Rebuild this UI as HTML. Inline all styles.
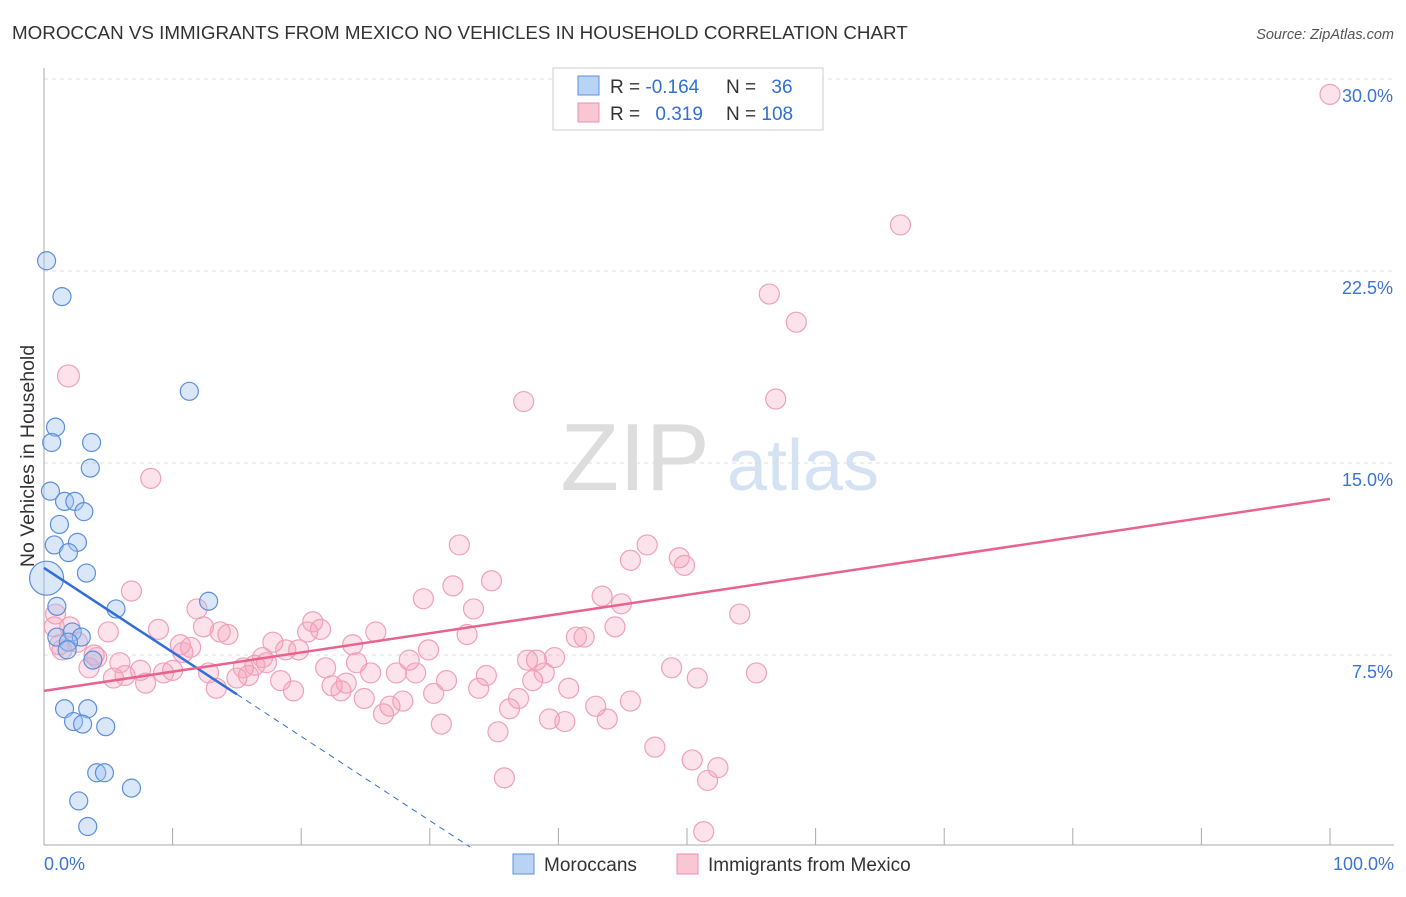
<!DOCTYPE html>
<html><head><meta charset="utf-8"><style>
body{margin:0;background:#fff;font-family:"Liberation Sans",sans-serif}
svg text{font-family:"Liberation Sans",sans-serif}
</style></head><body>
<svg id="c" width="1406" height="892" viewBox="0 0 1406 892">
<text x="12" y="39" font-size="18.8" fill="#333">MOROCCAN VS IMMIGRANTS FROM MEXICO NO VEHICLES IN HOUSEHOLD CORRELATION CHART</text>
<text x="1394" y="39" font-size="14.5" fill="#555" font-style="italic" text-anchor="end">Source: ZipAtlas.com</text>
<text x="0" y="0" transform="translate(34,456) rotate(-90)" font-size="19.5" fill="#333" text-anchor="middle">No Vehicles in Household</text>
<g><text x="635" y="490" font-size="96" fill="#ddd" font-family="Liberation Serif" text-anchor="middle">ZIP</text><text x="803" y="490" font-size="72" fill="#d4e2f4" text-anchor="middle">atlas</text></g>
<g id="grid"></g><g id="axes"></g><g id="marks"></g>
<g>
<rect x="553" y="68" width="270" height="62" fill="#fff" stroke="#ccc"/>
<rect x="578" y="76" width="21" height="19" fill="#b9d3f5" stroke="#5b8fdb"/>
<rect x="578" y="103" width="21" height="19" fill="#f9c6d4" stroke="#ee8fae"/>
<text x="610" y="93" font-size="19" fill="#333">R = <tspan fill="#2f6fd6">-0.164</tspan></text>
<text x="726" y="93" font-size="19" fill="#333">N = <tspan fill="#2f6fd6" dx="10">36</tspan></text>
<text x="610" y="120" font-size="19" fill="#333">R = <tspan fill="#2f6fd6" dx="10">0.319</tspan></text>
<text x="726" y="120" font-size="19" fill="#333">N = <tspan fill="#2f6fd6">108</tspan></text>
</g>
<g>
<rect x="513" y="854" width="21" height="20" fill="#b9d3f5" stroke="#5b8fdb"/>
<text x="544" y="871" font-size="19" fill="#333">Moroccans</text>
<rect x="677" y="854" width="21" height="20" fill="#f9c6d4" stroke="#ee8fae"/>
<text x="708" y="871" font-size="19" fill="#333">Immigrants from Mexico</text>
</g>
</svg>
<script>
const yTicks=[7.5,15,22.5,30];
const yTickLabels=["7.5%","15.0%","22.5%","30.0%"];
const xTickLabels=["0.0%","100.0%"];
const blueX=[0.2,1.4,11.3,0.9,0.6,3.7,3.6,0.5,1.6,2.4,3.1,1.2,0.8,2.6,1.9,3.3,0.2,5.6,12.8,1.0,1.0,2.2,2.9,1.9,1.8,3.8,1.6,3.4,2.3,3.0,4.8,4.1,4.7,2.7,6.8,3.4];
const blueY=[22.9,21.5,17.8,16.4,15.8,15.8,14.8,13.9,13.5,13.5,13.1,12.6,11.8,11.9,11.5,10.7,10.5,9.3,9.6,9.4,8.2,8.4,8.2,8.0,7.7,7.3,5.4,5.4,4.9,4.8,4.7,2.9,2.9,1.8,2.3,0.8];
const pinkX=[100,66.6,56.4,58.5,1.9,37.3,56.9,8.3,32.3,46.9,45.6,49.4,49.8,34.8,31.8,6.8,43.4,29.5,44.9,11.9,33.4,54.1,0.9,2.0,5.0,8.9,12.4,14.3,13.7,20.9,21.5,20.5,25.8,32.9,42.0,41.4,44.4,2.6,10.6,11.4,17.8,18.8,19.8,24.0,29.9,1.2,1.4,0.8,3.9,4.1,5.9,10.8,15.5,16.4,17.3,17.0,28.4,24.3,37.6,38.3,39.7,48.8,55.4,3.5,7.5,9.3,10.0,12.8,21.9,27.4,31.3,34.4,38.9,50.8,5.4,6.3,7.9,15.0,15.9,18.4,22.4,23.1,23.5,25.4,28.9,38.0,13.4,19.4,33.8,40.8,30.3,24.9,27.9,26.9,36.9,36.2,42.9,45.6,26.4,39.3,40.5,43.8,30.9,35.3,47.5,50.4,52.4,35.8,51.6,51.3];
const pinkY=[29.4,24.3,21.6,20.5,18.4,17.4,17.5,14.4,11.8,11.8,11.2,11.3,11.0,10.4,10.2,10.0,9.8,9.7,9.5,9.3,9.3,9.1,9.1,8.6,8.4,8.5,8.6,8.3,8.4,8.8,8.5,8.4,8.4,8.3,8.2,8.2,8.6,8.0,7.9,7.8,8.0,7.7,7.7,7.9,7.7,7.9,7.7,8.6,7.5,7.4,7.2,7.6,7.0,7.1,7.2,7.4,7.3,7.2,7.3,7.3,7.4,7.0,6.8,7.0,6.9,6.8,6.9,6.8,7.0,6.8,6.5,6.7,6.8,6.6,6.6,6.7,6.4,6.6,6.7,6.5,6.3,6.1,6.4,6.8,6.8,6.5,6.2,6.1,6.2,6.2,6.0,5.8,5.7,5.5,5.8,5.4,5.5,5.7,5.2,5.0,4.9,5.0,4.8,4.5,3.9,3.4,3.1,2.7,2.6,0.6];
const blueTrend=[10.9,-0.329];
const pinkTrend=[6.1,0.075];
const NS="http://www.w3.org/2000/svg";
const sx=v=>44+v*12.86, sy=v=>847-v*25.6;
function mk(tag,attrs,parent){const e=document.createElementNS(NS,tag);for(const k in attrs)e.setAttribute(k,attrs[k]);document.getElementById(parent).appendChild(e);return e;}
yTicks.forEach((t,i)=>{
 const g=mk('line',{x1:44,x2:1394,y1:sy(t),y2:sy(t),stroke:'#ddd','stroke-dasharray':'4,4'},'grid');
 
 
 const l=mk('text',{x:1393,y:sy(t)+23,'font-size':18,fill:'#3b73d6','text-anchor':'end'},'axes');
 l.textContent=yTickLabels[i];
 
 
});
const ax=mk('line',{x1:44,x2:44,y1:68,y2:845,stroke:'#aaa'},'axes');


const bx=mk('line',{x1:44,x2:1394,y1:845,y2:845,stroke:'#aaa'},'axes');


for(let i=0;i<=10;i++){const t=mk('line',{x1:sx(i*10),x2:sx(i*10),y1:828,y2:845,stroke:'#aaa'},'axes');
 
 }
[[0,'start',44],[100,'end',1394]].forEach((a,i)=>{const t=mk('text',{x:a[2],y:870,'font-size':18,fill:'#3b73d6','text-anchor':a[1]},'axes');t.textContent=xTickLabels[i];
 
 });
pinkX.forEach((x,i)=>{const c=mk('circle',{cx:sx(x),cy:sy(pinkY[i]),r:(x<2&&pinkY[i]>18)?11:10,fill:'rgba(244,160,185,0.3)',stroke:'#f0a0b8','stroke-width':1.2},'marks');
 
 });
blueX.forEach((x,i)=>{const c=mk('circle',{cx:sx(x),cy:sy(blueY[i]),r:i==16?17:9,fill:'rgba(160,195,240,0.4)',stroke:'#5b8fdb','stroke-width':1.2},'marks');
 
 });
const bz=-blueTrend[0]/blueTrend[1];
const l1=mk('line',{x1:sx(0),y1:sy(blueTrend[0]),x2:sx(15),y2:sy(blueTrend[0]+15*blueTrend[1]),stroke:'#2f6fd6','stroke-width':2.5},'marks');


const l2=mk('line',{x1:sx(15),y1:sy(blueTrend[0]+15*blueTrend[1]),x2:sx(bz),y2:sy(0),stroke:'#2f6fd6','stroke-width':1,'stroke-dasharray':'6,5'},'marks');


const l3=mk('line',{x1:sx(0),y1:sy(pinkTrend[0]),x2:sx(100),y2:sy(pinkTrend[0]+100*pinkTrend[1]),stroke:'#e8638e','stroke-width':2.5},'marks');


</script>
</body></html>
